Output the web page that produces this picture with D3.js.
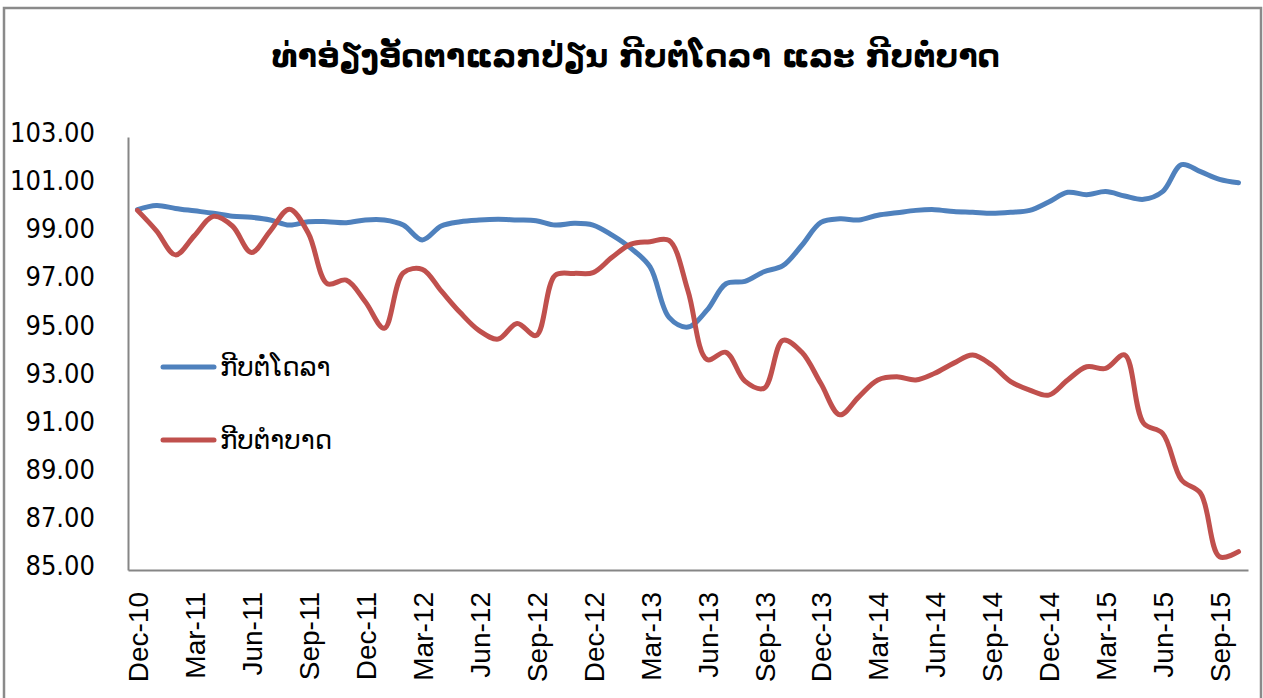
<!DOCTYPE html>
<html>
<head>
<meta charset="utf-8">
<script src="https://cdn.jsdelivr.net/npm/d3@7/dist/d3.min.js"></script>
<style>
  body { margin: 0; background: #fff; }
  svg { display: block; }
</style>
</head>
<body>
<div id="chart"></div>
<script>
// chart data
var title = "ທ່າອ່ຽງອັດຕາແລກປ່ຽນ ກີບຕໍ່ໂດລາ ແລະ ກີບຕໍ່ບາດ";
var seriesNames = ["ກີບຕໍ່ໂດລາ", "ກີບຕຳບາດ"];
var seriesColors = ["#4F81BD", "#C0504D"];

var months = ["Dec-10",
  "Jan-11","Feb-11","Mar-11","Apr-11","May-11","Jun-11","Jul-11","Aug-11","Sep-11","Oct-11","Nov-11","Dec-11",
  "Jan-12","Feb-12","Mar-12","Apr-12","May-12","Jun-12","Jul-12","Aug-12","Sep-12","Oct-12","Nov-12","Dec-12",
  "Jan-13","Feb-13","Mar-13","Apr-13","May-13","Jun-13","Jul-13","Aug-13","Sep-13","Oct-13","Nov-13","Dec-13",
  "Jan-14","Feb-14","Mar-14","Apr-14","May-14","Jun-14","Jul-14","Aug-14","Sep-14","Oct-14","Nov-14","Dec-14",
  "Jan-15","Feb-15","Mar-15","Apr-15","May-15","Jun-15","Jul-15","Aug-15","Sep-15","Oct-15"];

var tickLabels = ["Dec-10","Mar-11","Jun-11","Sep-11","Dec-11","Mar-12","Jun-12","Sep-12","Dec-12","Mar-13",
  "Jun-13","Sep-13","Dec-13","Mar-14","Jun-14","Sep-14","Dec-14","Mar-15","Jun-15","Sep-15"];

var yTicks = [85, 87, 89, 91, 93, 95, 97, 99, 101, 103];

// kip per dollar (index)
var kipUsd = [99.98,
  100.15,100.03,99.93,99.83,99.71,99.66,99.55,99.34,99.48,99.48,99.44,99.55,
  99.55,99.34,98.72,99.30,99.48,99.55,99.58,99.55,99.52,99.34,99.41,99.34,
  98.92,98.37,97.60,95.50,95.10,95.80,96.90,97.00,97.40,97.65,98.50,99.45,
  99.60,99.55,99.75,99.85,99.95,99.98,99.90,99.87,99.83,99.87,99.95,100.30,
  100.70,100.60,100.73,100.55,100.41,100.73,101.85,101.56,101.24,101.10];

// kip per baht (index)
var kipThb = [99.95,
  99.10,98.10,98.90,99.70,99.30,98.20,99.10,100.00,99.00,96.90,97.05,96.15,
  95.05,97.35,97.50,96.60,95.70,94.95,94.60,95.25,94.75,97.25,97.33,97.36,
  98.00,98.55,98.65,98.70,96.60,93.75,94.05,92.85,92.55,94.55,94.05,92.75,
  91.45,92.20,92.90,93.03,92.90,93.18,93.60,93.94,93.52,92.83,92.48,92.27,
  92.90,93.45,93.38,93.94,91.10,90.68,88.74,88.19,85.55,85.76];

var w = 1263, h = 698;
var plot = {left: 128, right: 1248, top: 137, bottom: 570};

var svg = d3.select("#chart").append("svg")
  .attr("width", w)
  .attr("height", h);

svg.append("rect")
  .attr("width", w).attr("height", h)
  .attr("fill", "#fff");

// chart border
svg.append("rect")
  .attr("x", 4).attr("y", 8)
  .attr("width", 1257).attr("height", 720)
  .attr("fill", "none")
  .attr("stroke", "#8a8a8a")
  .attr("stroke-width", 2.5);

var xScale = d3.scalePoint()
  .domain(months)
  .range([plot.left, plot.right])
  .padding(0.5);

var yScale = d3.scaleLinear()
  .domain([85, 103])
  .range([plot.bottom, plot.top]);

// title
var titleText = svg.append("text")
  .text(title)
  .attr("x", 636)
  .attr("y", 56)
  .attr("text-anchor", "middle")
  .attr("dominant-baseline", "central")
  .style("font-family", "'DejaVu Sans', sans-serif")
  .style("font-weight", "bold")
  .style("font-size", "30px")
  .attr("fill", "#000");
// fit title to its width in the picture
var tl = titleText.node().getComputedTextLength();
titleText.style("font-size", (30 * 728 / tl) + "px");

// y axis
var yAxis = g => {
  g.call(d3.axisLeft(yScale)
    .tickValues(yTicks)
    .tickFormat(d3.format(".2f"))
    .tickSize(0)
    .tickPadding(33));
  g.select(".domain").attr("stroke", "#868686").attr("stroke-width", 2);
  g.selectAll("text")
    .attr("transform", "translate(0,-4)")
    .attr("fill", "#000")
    .style("font-family", "'DejaVu Sans', sans-serif")
    .style("font-stretch", "condensed")
    .style("font-size", "27px");
};
svg.append("g")
  .attr("transform", "translate(" + plot.left + ",0)")
  .call(yAxis);

// x axis
var xAxis = g => {
  g.call(d3.axisBottom(xScale)
    .tickValues(tickLabels)
    .tickSize(0)
    .tickSizeOuter(0));
  g.select(".domain").attr("stroke", "#868686").attr("stroke-width", 2);
  g.selectAll("text")
    .attr("transform", "rotate(-90)")
    .attr("x", -22)
    .attr("y", 0)
    .attr("dy", "0.36em")
    .attr("text-anchor", "end")
    .attr("fill", "#000")
    .style("font-family", "'Liberation Sans', Arial, sans-serif")
    .style("font-size", "28px");
};
svg.append("g")
  .attr("transform", "translate(0," + plot.bottom + ")")
  .call(xAxis);

// lines
var line = d3.line()
  .x((d, i) => xScale(months[i]))
  .y(d => yScale(d))
  .curve(d3.curveCatmullRom.alpha(0.5));

[kipUsd, kipThb].forEach(function(s, k) {
  svg.append("path")
    .datum(s)
    .attr("d", line)
    .attr("fill", "none")
    .attr("stroke", seriesColors[k])
    .attr("stroke-width", 5)
    .attr("stroke-linejoin", "round")
    .attr("stroke-linecap", "round");
});

// legend
var legend = svg.append("g");
seriesNames.forEach(function(name, k) {
  var ly = 367 + k * 73;
  legend.append("line")
    .attr("x1", 163).attr("x2", 214)
    .attr("y1", ly).attr("y2", ly)
    .attr("stroke", seriesColors[k])
    .attr("stroke-width", 5)
    .attr("stroke-linecap", "round");
  legend.append("text")
    .text(name)
    .attr("x", 220)
    .attr("y", ly)
    .attr("dominant-baseline", "central")
    .style("font-family", "'DejaVu Sans', sans-serif")
    .style("font-size", "26px")
    .attr("fill", "#000");
});
</script>
</body>
</html>
